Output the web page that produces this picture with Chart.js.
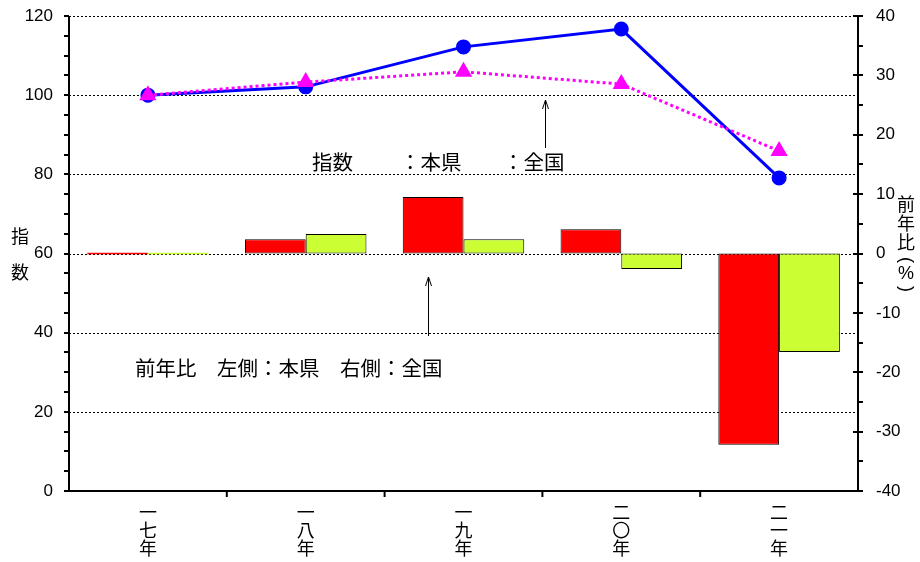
<!DOCTYPE html>
<html>
<head>
<meta charset="utf-8">
<script src="https://cdn.jsdelivr.net/npm/chart.js@4"></script>
<style>
  html, body { margin: 0; padding: 0; background: #fff; }
  #wrap { width: 920px; height: 562px; }
</style>
</head>
<body>
<div id="wrap"><canvas id="c"></canvas></div>
<script>
// 年（平成）
const categories = ['一七年', '一八年', '一九年', '二〇年', '二一年'];
// 指数（左軸）
const indexPref = [100.0, 102.1, 112.2, 116.7, 79.1];
const indexNation = [100.0, 103.3, 105.9, 102.8, 85.9];
// 前年比 %（右軸）
const yoyPref = [0, 2.4, 9.5, 4.1, -32.2];
const yoyNation = [0, 3.3, 2.4, -2.6, -16.6];

const jp = "'Noto Sans CJK JP', sans-serif";
const num = "'Liberation Sans', Arial, sans-serif";

// axes, dotted grid, tick marks
const framePlugin = {
  id: 'frame',
  beforeDatasetsDraw(chart) {
    const { ctx, chartArea: a, scales } = chart;
    const y = scales.y, y2 = scales.y2, x = scales.x;
    ctx.save();
    ctx.strokeStyle = '#000';
    ctx.lineWidth = 1;
    ctx.setLineDash([2, 2]);
    for (let v = 20; v <= 120; v += 20) {
      const py = Math.round(y.getPixelForValue(v)) + 0.5;
      ctx.beginPath(); ctx.moveTo(a.left, py); ctx.lineTo(a.right, py); ctx.stroke();
    }
    ctx.setLineDash([]);
    ctx.lineWidth = 2;
    // left axis
    ctx.beginPath(); ctx.moveTo(a.left, a.top); ctx.lineTo(a.left, a.bottom); ctx.stroke();
    for (let v = 0; v <= 120; v += 5) {
      const py = Math.round(y.getPixelForValue(v));
      ctx.beginPath(); ctx.moveTo(a.left - 5, py); ctx.lineTo(a.left, py); ctx.stroke();
    }
    // right axis
    ctx.beginPath(); ctx.moveTo(a.right, a.top); ctx.lineTo(a.right, a.bottom); ctx.stroke();
    for (let v = -40; v <= 40; v += 5) {
      const py = Math.round(y2.getPixelForValue(v));
      const major = v % 10 === 0;
      ctx.beginPath(); ctx.moveTo(a.right - (major ? 5 : 0), py); ctx.lineTo(a.right + 5, py); ctx.stroke();
    }
    // bottom axis
    ctx.beginPath(); ctx.moveTo(a.left - 5, a.bottom); ctx.lineTo(a.right + 5, a.bottom); ctx.stroke();
    for (let i = 1; i < categories.length; i++) {
      const px = (x.getPixelForValue(i - 1) + x.getPixelForValue(i)) / 2;
      ctx.beginPath(); ctx.moveTo(px, a.bottom); ctx.lineTo(px, a.bottom + 6); ctx.stroke();
    }
    ctx.restore();
  }
};

function arrowUp(ctx, x, y1, y0) {
  ctx.beginPath();
  ctx.moveTo(x, y1); ctx.lineTo(x, y0);
  ctx.moveTo(x - 3, y0 + 9); ctx.lineTo(x, y0); ctx.lineTo(x + 3, y0 + 9);
  ctx.stroke();
}

function rotChar(ctx, ch, x, y) {
  ctx.save();
  ctx.translate(x, y); ctx.rotate(Math.PI / 2);
  ctx.fillText(ch, 0, 0);
  ctx.restore();
}

// titles and notes
const textPlugin = {
  id: 'texts',
  afterDraw(chart) {
    const { ctx } = chart;
    ctx.save();
    ctx.fillStyle = '#000';
    ctx.font = '18px ' + jp;
    ctx.textBaseline = 'middle';
    ctx.textAlign = 'center';
    // left title
    ctx.fillText('指', 20, 236);
    ctx.fillText('数', 20, 272);
    // right title
    ['前', '年', '比'].forEach((ch, i) => ctx.fillText(ch, 906, 204 + i * 19));
    ctx.font = '18px ' + num;
    rotChar(ctx, '(', 906, 260);
    ctx.fillText('%', 906, 274);
    rotChar(ctx, ')', 906, 289);
    // notes
    ctx.font = '20.5px ' + jp;
    ctx.textAlign = 'left';
    ctx.fillText('指数', 312, 162);
    ctx.fillText('：本県', 400, 162);
    ctx.fillText('：全国', 503, 162);
    ctx.fillText('前年比　左側：本県　右側：全国', 135, 368);
    ctx.strokeStyle = '#000';
    ctx.lineWidth = 1;
    arrowUp(ctx, 545.5, 148, 100);
    arrowUp(ctx, 428.5, 336, 277);
    ctx.restore();
  }
};

function noPad(s) { s.paddingTop = 0; s.paddingBottom = 0; }

new Chart(document.getElementById('c'), {
  data: {
    labels: categories.map(s => s.split('')),
    datasets: [
      {
        type: 'line', label: '指数：全国', data: indexNation, yAxisID: 'y', order: 0,
        borderColor: '#FF00FF', backgroundColor: '#FF00FF', borderWidth: 3,
        borderDash: [3, 3], pointStyle: 'triangle', pointRadius: 7, tension: 0
      },
      {
        type: 'line', label: '指数：本県', data: indexPref, yAxisID: 'y', order: 1,
        borderColor: '#0000FF', backgroundColor: '#0000FF', borderWidth: 3,
        pointStyle: 'circle', pointRadius: 6, tension: 0
      },
      {
        type: 'bar', label: '前年比：本県', data: yoyPref, yAxisID: 'y2', order: 2,
        backgroundColor: '#FF0000',
        borderColor: c => c.raw === 0 ? '#FF0000' : '#000',
        borderWidth: 1, borderSkipped: false, minBarLength: 2,
        categoryPercentage: 0.77, barPercentage: 1.0
      },
      {
        type: 'bar', label: '前年比：全国', data: yoyNation, yAxisID: 'y2', order: 3,
        backgroundColor: '#CCFF33',
        borderColor: c => c.raw === 0 ? '#CCFF33' : '#000',
        borderWidth: 1, borderSkipped: false, minBarLength: 2,
        categoryPercentage: 0.77, barPercentage: 1.0
      }
    ]
  },
  plugins: [framePlugin, textPlugin],
  options: {
    responsive: true,
    maintainAspectRatio: false,
    animation: false,
    layout: { padding: { top: 16 } },
    plugins: { legend: { display: false }, tooltip: { enabled: false } },
    scales: {
      x: {
        grid: { display: false }, border: { display: false },
        ticks: {
          color: '#000', font: { family: jp, size: 18, lineHeight: 1.0 },
          padding: 4, maxRotation: 0, minRotation: 0
        },
        afterFit(s) { s.height = 71; s.paddingLeft = 0; s.paddingRight = 0; }
      },
      y: {
        position: 'left', min: 0, max: 120,
        grid: { display: false }, border: { display: false },
        ticks: { stepSize: 20, color: '#000', font: { family: num, size: 17 }, padding: 8 },
        afterFit(s) { s.width = 69; noPad(s); }
      },
      y2: {
        position: 'right', min: -40, max: 40,
        grid: { display: false }, border: { display: false },
        ticks: { stepSize: 10, color: '#000', font: { family: num, size: 17 }, padding: 10,
          callback: v => v < 0 ? '-' + Math.abs(v) : String(v) },
        afterFit(s) { s.width = 62; noPad(s); }
      }
    }
  }
});
</script>
</body>
</html>
